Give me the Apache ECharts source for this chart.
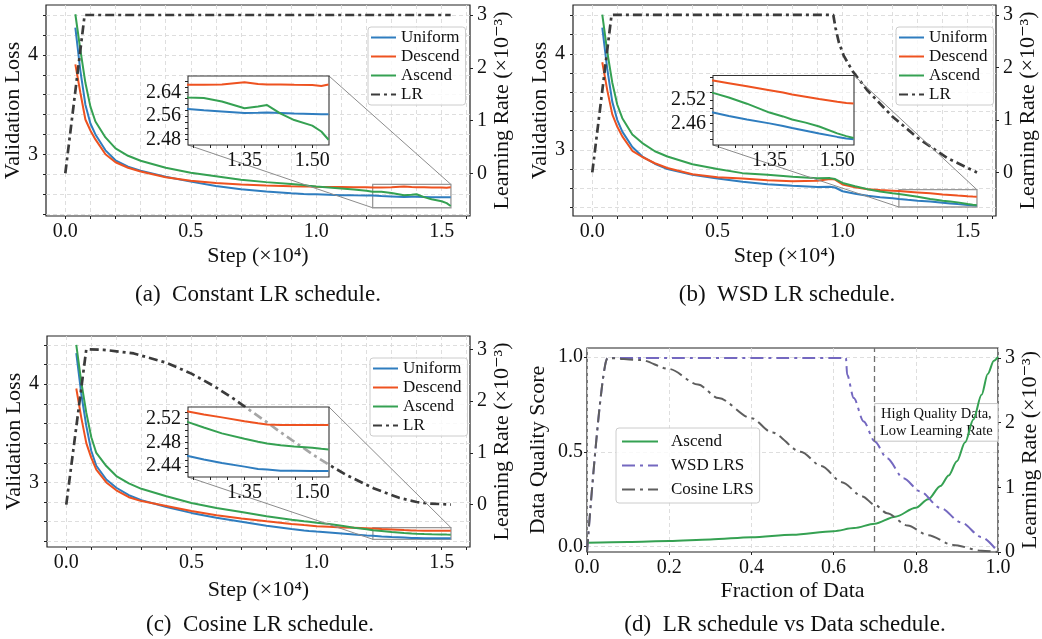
<!DOCTYPE html>
<html>
<head>
<meta charset="utf-8">
<script src="https://cdn.jsdelivr.net/npm/echarts@6/dist/echarts.min.js"></script>
<style>
  html, body { margin: 0; padding: 0; background: #fff; }
  #chart { width: 1042px; height: 639px; }
</style>
</head>
<body>
<div id="chart"></div>
<script>
// ---- data (step axis in units of 1e4 steps) ----
const steps = [0.04, 0.06, 0.08, 0.10, 0.12, 0.16, 0.20, 0.25, 0.30, 0.40, 0.50, 0.60, 0.70, 0.80, 0.90, 0.95, 0.97,
  1.00, 1.05, 1.10, 1.15, 1.20, 1.225, 1.26, 1.30, 1.35, 1.38, 1.40, 1.43, 1.46, 1.50, 1.52, 1.536];

// (a) constant LR
const uniformA = [4.275, 3.84, 3.50, 3.31, 3.20, 3.04, 2.94, 2.875, 2.836, 2.775, 2.725, 2.68, 2.648, 2.625, 2.607, 2.601, 2.599,
  2.597, 2.592, 2.589, 2.587, 2.586, 2.585, 2.58, 2.576, 2.571, 2.572, 2.573, 2.571, 2.569, 2.568, 2.567, 2.567];
const descendA = [3.906, 3.62, 3.35, 3.24, 3.15, 3.00, 2.92, 2.865, 2.827, 2.77, 2.735, 2.71, 2.695, 2.685, 2.678, 2.676, 2.675,
  2.673, 2.671, 2.67, 2.669, 2.668, 2.667, 2.667, 2.668, 2.676, 2.670, 2.668, 2.668, 2.667, 2.666, 2.663, 2.668];
const ascendA = [4.41, 4.05, 3.72, 3.48, 3.33, 3.17, 3.06, 2.985, 2.935, 2.865, 2.815, 2.78, 2.745, 2.72, 2.70, 2.69, 2.683,
  2.675, 2.665, 2.655, 2.645, 2.632, 2.624, 2.622, 2.61, 2.587, 2.593, 2.598, 2.569, 2.547, 2.528, 2.508, 2.48];
const lrStepsA = [0, 0.077, 1.536];
const lrA = [0, 3, 3];

// (b) WSD LR
const uniformB = [4.274, 3.84, 3.50, 3.31, 3.19, 3.03, 2.93, 2.855, 2.80, 2.74, 2.70, 2.668, 2.642, 2.625, 2.612, 2.614, 2.607,
  2.568, 2.543, 2.52, 2.506, 2.495, 2.488, 2.479, 2.47, 2.46, 2.453, 2.448, 2.441, 2.434, 2.425, 2.421, 2.419];
const descendB = [3.913, 3.62, 3.37, 3.24, 3.14, 2.99, 2.925, 2.86, 2.81, 2.745, 2.715, 2.70, 2.683, 2.673, 2.677, 2.695, 2.69,
  2.638, 2.61, 2.59, 2.58, 2.574, 2.571, 2.564, 2.556, 2.546, 2.54, 2.535, 2.529, 2.523, 2.516, 2.513, 2.5115];
const ascendB = [4.41, 4.02, 3.70, 3.47, 3.33, 3.16, 3.07, 2.985, 2.93, 2.85, 2.80, 2.757, 2.74, 2.72, 2.703, 2.705, 2.695,
  2.655, 2.62, 2.59, 2.565, 2.547, 2.539, 2.527, 2.511, 2.488, 2.478, 2.47, 2.462, 2.452, 2.434, 2.427, 2.422];
const lrStepsB = [0, 0.077, 0.963, 0.972, 0.985, 1.005, 1.04, 1.10, 1.20, 1.30, 1.42, 1.537];
const lrB = [0, 3, 3, 2.75, 2.48, 2.22, 1.93, 1.56, 1.06, 0.66, 0.27, 0];

// (c) cosine LR
const uniformC = [4.316, 3.90, 3.575, 3.32, 3.17, 3.03, 2.946, 2.87, 2.82, 2.75, 2.69, 2.64, 2.60, 2.56, 2.527, 2.512, 2.507,
  2.50, 2.49, 2.48, 2.47, 2.461, 2.457, 2.451, 2.445, 2.439, 2.435, 2.434, 2.432, 2.432, 2.4315, 2.4315, 2.4315];
const descendC = [3.956, 3.66, 3.40, 3.25, 3.13, 3.00, 2.92, 2.85, 2.81, 2.76, 2.71, 2.667, 2.633, 2.605, 2.578, 2.566, 2.562,
  2.555, 2.548, 2.542, 2.538, 2.534, 2.532, 2.527, 2.522, 2.5155, 2.512, 2.51, 2.509, 2.509, 2.509, 2.509, 2.509];
const ascendC = [4.40, 4.02, 3.71, 3.46, 3.30, 3.167, 3.065, 2.99, 2.935, 2.86, 2.79, 2.74, 2.70, 2.656, 2.62, 2.605, 2.60,
  2.59, 2.577, 2.56, 2.54, 2.523, 2.514, 2.505, 2.495, 2.486, 2.481, 2.478, 2.475, 2.473, 2.471, 2.469, 2.468];
const lrStepsC = [0, 0.08, 0.15, 0.27, 0.40, 0.50, 0.59, 0.67, 0.79, 0.87, 1.0, 1.07, 1.12, 1.23, 1.33, 1.40, 1.45, 1.537];
const lrC = [0, 3.0, 2.99, 2.92, 2.74, 2.53, 2.29, 2.04, 1.63, 1.35, 0.92, 0.71, 0.57, 0.31, 0.13, 0.05, 0.02, 0];

// (d) schedules vs fraction of data
const fracAscend = [0, 0.1, 0.2, 0.3, 0.4, 0.5, 0.6, 0.65, 0.7, 0.75, 0.8, 0.83, 0.86, 0.88, 0.9, 0.92, 0.94, 0.96, 0.975, 0.99, 1.0];
const ascendD = [0.021, 0.025, 0.030, 0.038, 0.05, 0.063, 0.082, 0.098, 0.121, 0.158, 0.205, 0.25, 0.32, 0.375, 0.45, 0.55, 0.67, 0.80, 0.91, 0.98, 1.0];
const fracWsd = [0, 0.05, 0.63, 0.633, 0.649, 0.673, 0.70, 0.73, 0.77, 0.81, 0.86, 0.91, 0.96, 1.0];
const wsdD = [0, 3, 3, 2.74, 2.38, 2.02, 1.71, 1.45, 1.14, 0.94, 0.68, 0.46, 0.23, 0];
const fracCos = [0, 0.05, 0.13, 0.2, 0.27, 0.32, 0.4, 0.45, 0.52, 0.57, 0.62, 0.67, 0.7, 0.73, 0.78, 0.83, 0.89, 0.96, 1.0];
const cosD = [0, 3, 2.97, 2.83, 2.59, 2.38, 2.07, 1.85, 1.55, 1.33, 1.08, 0.86, 0.73, 0.60, 0.41, 0.26, 0.11, 0.02, 0];

// ---- ticks / limits ----
const stepMajor = [0, 0.5, 1, 1.5];
const stepMinor = [0, 0.1, 0.2, 0.3, 0.4, 0.5, 0.6, 0.7, 0.8, 0.9, 1, 1.1, 1.2, 1.3, 1.4, 1.5, 1.6];
const lossMajor = [3, 4];
const lossMinor = [2.4, 2.6, 2.8, 3, 3.2, 3.4, 3.6, 3.8, 4, 4.2, 4.4];
const lrTicks = [0, 1, 2, 3];
const zoomSteps = [1.225, 1.537];
const zoomStepTicks = [1.2375, 1.275, 1.3125, 1.35, 1.3875, 1.425, 1.4625, 1.5];
const zoomStepLabels = [1.35, 1.5];
const zoomLossA = [2.462, 2.697];
const zoomTicksA = [2.48, 2.5, 2.52, 2.54, 2.56, 2.58, 2.6, 2.62, 2.64, 2.66, 2.68];
const zoomLabelsA = [2.48, 2.56, 2.64];
const zoomLossB = [2.404, 2.584];
const zoomTicksB = [2.42, 2.44, 2.46, 2.48, 2.5, 2.52, 2.54, 2.56, 2.58];
const zoomLabelsB = [2.46, 2.52];
const zoomLossC = [2.4215, 2.5395];
const zoomTicksC = [2.43, 2.44, 2.45, 2.46, 2.47, 2.48, 2.49, 2.5, 2.51, 2.52, 2.53];
const zoomLabelsC = [2.44, 2.48, 2.52];
const qualityTicks = [0, 0.5, 1];

const captions = ['(a)  Constant LR schedule.', '(b)  WSD LR schedule.', '(c)  Cosine LR schedule.', '(d)  LR schedule vs Data schedule.'];

// ---- styles ----
const FONT = "'Liberation Serif', 'DejaVu Serif', serif";
const BLUE = '#2f7dbf', ORANGE = '#ee5220', GREEN = '#35a152', LRC = '#3b3b3b';
const WSDC = '#7468c0', COSC = '#5e5e5e';
const LR_DASH = [9, 4, 3, 4];
const D_DASH = [13, 5, 3, 5];
const tickLabel = { fontFamily: FONT, fontSize: 20, color: '#111' };
const nameStyle = { fontFamily: FONT, fontSize: 22, color: '#111' };
const gridLine = { show: true, lineStyle: { type: [4, 3], color: '#dadada', width: 0.9 } };
const tickStyle = { color: '#222', width: 1 };

function pairs(xs, ys) { return xs.map((x, i) => [x, ys[i]]); }

const panels = [
  { g: { left: 46, top: 5, width: 424, height: 211 }, yL: [2.379, 4.503], yR: [-0.81, 3.19], gapX: 29, gapL: 20, gapR: 19,
    legend: { left: 368, top: 27 }, u: uniformA, d: descendA, a: ascendA, lrx: lrStepsA, lr: lrA,
    inset: { left: 188, top: 76, width: 141, height: 69 }, iy: zoomLossA, it: zoomTicksA, il: zoomLabelsA, cap: { left: 258, top: 283 } },
  { g: { left: 573, top: 5, width: 423, height: 211 }, yL: [2.31, 4.51], yR: [-0.83, 3.19], gapX: 29, gapL: 16, gapR: 21,
    legend: { left: 896, top: 27 }, u: uniformB, d: descendB, a: ascendB, lrx: lrStepsB, lr: lrB,
    inset: { left: 713, top: 75.5, width: 141, height: 69.5 }, iy: zoomLossB, it: zoomTicksB, il: zoomLabelsB, cap: { left: 787, top: 283 } },
  { g: { left: 47, top: 336, width: 423, height: 211 }, yL: [2.343, 4.49], yR: [-0.82, 3.257], gapX: 32, gapL: 18.5, gapR: 20,
    legend: { left: 370, top: 358 }, u: uniformC, d: descendC, a: ascendC, lrx: lrStepsC, lr: lrC,
    inset: { left: 188, top: 407, width: 141, height: 70 }, iy: zoomLossC, it: zoomTicksC, il: zoomLabelsC, cap: { left: 260, top: 613 } }
];

const grid = [], xAxis = [], yAxis = [], series = [], legend = [], title = [];

function line(name, xi, yi, xs, ys, color, extra) {
  return Object.assign({
    type: 'line', name, xAxisIndex: xi, yAxisIndex: yi, data: pairs(xs, ys),
    symbol: 'none', lineStyle: { width: 2, color }, itemStyle: { color }
  }, extra || {});
}

const legendBase = {
  orient: 'vertical', itemWidth: 25, itemHeight: 12, itemGap: 2, padding: [2, 6, 2, 2],
  backgroundColor: 'rgba(255,255,255,0.8)', borderColor: '#cccccc', borderWidth: 1, borderRadius: 3,
  itemStyle: { opacity: 0, color: 'rgba(0,0,0,0)', borderWidth: 0 },
  textStyle: { fontFamily: FONT, fontSize: 17, color: '#111' }, selectedMode: false
};

const captionStyle = { fontFamily: FONT, fontSize: 23, fontWeight: 'normal', color: '#111' };

// main panels (a)-(c)
panels.forEach((p, k) => {
  grid.push(Object.assign({ show: true, borderColor: '#222', borderWidth: 1.2 }, p.g));
  xAxis.push({
    type: 'value', gridIndex: k, min: -0.077, max: 1.613,
    axisLine: { show: false, onZero: false },
    axisTick: { customValues: stepMinor, length: 3, lineStyle: tickStyle },
    axisLabel: Object.assign({ customValues: stepMajor, formatter: v => v.toFixed(1), margin: 6 }, tickLabel),
    splitLine: gridLine,
    name: 'Step (×10⁴)', nameLocation: 'middle', nameGap: p.gapX, nameTextStyle: nameStyle
  });
  yAxis.push({
    type: 'value', gridIndex: k, position: 'left', min: p.yL[0], max: p.yL[1],
    axisLine: { show: false, onZero: false },
    axisTick: { customValues: lossMinor, length: 3, lineStyle: tickStyle },
    axisLabel: Object.assign({ customValues: lossMajor, formatter: v => String(Math.round(v)), margin: 8 }, tickLabel),
    splitLine: gridLine,
    name: 'Validation Loss', nameLocation: 'middle', nameRotate: 90, nameGap: p.gapL, nameTextStyle: nameStyle
  });
  yAxis.push({
    type: 'value', gridIndex: k, position: 'right', min: p.yR[0], max: p.yR[1],
    axisLine: { show: false, onZero: false },
    axisTick: { customValues: lrTicks, length: 3, lineStyle: tickStyle },
    axisLabel: Object.assign({ customValues: lrTicks, formatter: v => String(Math.round(v)), margin: 7 }, tickLabel),
    splitLine: { show: false },
    name: 'Learning Rate (×10⁻³)', nameLocation: 'middle', nameRotate: 90, nameGap: p.gapR, nameTextStyle: nameStyle
  });
  series.push(line('Uniform', k, 2 * k, steps, p.u, BLUE, {
    markArea: {
      silent: true, itemStyle: { color: 'rgba(0,0,0,0)', borderColor: '#999', borderWidth: 1.3 },
      data: [[{ xAxis: zoomSteps[0], yAxis: p.iy[0] }, { xAxis: zoomSteps[1], yAxis: p.iy[1] }]]
    }
  }));
  series.push(line('Descend', k, 2 * k, steps, p.d, ORANGE));
  series.push(line('Ascend', k, 2 * k, steps, p.a, GREEN));
  series.push(line('LR', k, 2 * k + 1, p.lrx, p.lr, LRC, {
    lineStyle: { width: 2.7, color: LRC, type: LR_DASH }
  }));
  legend.push(Object.assign({}, legendBase, p.legend, { data: ['Uniform', 'Descend', 'Ascend', 'LR'] }));
  title.push({ text: captions[k], left: p.cap.left, top: p.cap.top, textAlign: 'center', padding: 0, textStyle: captionStyle });
});

// panel (d)
grid.push({ left: 587, top: 348, width: 411, height: 204, show: true, borderColor: '#222', borderWidth: 1.2 });
xAxis.push({
  type: 'value', gridIndex: 3, min: 0, max: 1, interval: 0.2,
  axisLine: { show: false, onZero: false },
  axisTick: { length: 3, lineStyle: tickStyle },
  axisLabel: Object.assign({ formatter: v => v.toFixed(1), margin: 6 }, tickLabel),
  splitLine: gridLine,
  name: 'Fraction of Data', nameLocation: 'middle', nameGap: 28, nameTextStyle: nameStyle
});
yAxis.push({
  type: 'value', gridIndex: 3, position: 'left', min: -0.028, max: 1.047,
  axisLine: { show: false, onZero: false },
  axisTick: { customValues: qualityTicks, length: 3, lineStyle: tickStyle },
  axisLabel: Object.assign({ customValues: qualityTicks, formatter: v => v.toFixed(1), margin: 4 }, tickLabel),
  splitLine: gridLine,
  name: 'Data Quality Score', nameLocation: 'middle', nameRotate: 90, nameGap: 38, nameTextStyle: nameStyle
});
yAxis.push({
  type: 'value', gridIndex: 3, position: 'right', min: 0, max: 3.155,
  axisLine: { show: false, onZero: false },
  axisTick: { customValues: lrTicks, length: 3, lineStyle: tickStyle },
  axisLabel: Object.assign({ customValues: lrTicks, formatter: v => String(Math.round(v)), margin: 7 }, tickLabel),
  splitLine: { show: false },
  name: 'Learning Rate (×10⁻³)', nameLocation: 'middle', nameRotate: 90, nameGap: 21, nameTextStyle: nameStyle
});
series.push(line('Ascend', 3, 6, fracAscend, ascendD, GREEN, {
  smooth: 0.3, smoothMonotone: 'x',
  markLine: {
    silent: true, symbol: 'none', label: { show: false },
    lineStyle: { type: [6, 4], color: '#707070', width: 1.3 },
    data: [{ xAxis: 0.7 }]
  },
  markArea: {
    silent: true,
    itemStyle: { color: 'rgba(255,255,255,0.85)', borderColor: '#c4c4c4', borderWidth: 1 },
    label: { show: true, position: 'inside', formatter: 'High Quality Data,\nLow Learning Rate',
      fontFamily: FONT, fontSize: 14.5, lineHeight: 17, color: '#111' },
    data: [[{ xAxis: 0.7, yAxis: 0.556 }, { xAxis: 1.0, yAxis: 0.754 }]]
  }
}));
series.push(line('WSD LRS', 3, 7, fracWsd, wsdD, WSDC, {
  smooth: 0.3, smoothMonotone: 'x', lineStyle: { width: 2, color: WSDC, type: D_DASH }
}));
series.push(line('Cosine LRS', 3, 7, fracCos, cosD, COSC, {
  smooth: 0.3, smoothMonotone: 'x', lineStyle: { width: 2, color: COSC, type: D_DASH }
}));
legend.push(Object.assign({}, legendBase, {
  left: 616, top: 428, itemWidth: 36, itemGap: 7, padding: [5, 6, 5, 5],
  textStyle: { fontFamily: FONT, fontSize: 17, color: '#111', padding: [0, 0, 0, 8] },
  data: ['Ascend', 'WSD LRS', 'Cosine LRS']
}));
title.push({ text: captions[3], left: 785, top: 613, textAlign: 'center', padding: 0, textStyle: captionStyle });

// zoom insets for (a)-(c)
panels.forEach((p, k) => {
  const gi = 4 + k;
  grid.push(Object.assign({ show: true, borderColor: '#333', borderWidth: 1.1, backgroundColor: 'rgba(255,255,255,0.55)', z: 5 }, p.inset));
  xAxis.push({
    type: 'value', gridIndex: gi, min: zoomSteps[0], max: zoomSteps[1], z: 6,
    axisLine: { show: false, onZero: false },
    axisTick: { customValues: zoomStepTicks, length: 3, lineStyle: tickStyle },
    axisLabel: Object.assign({ customValues: zoomStepLabels, formatter: v => v.toFixed(2), margin: 6 }, tickLabel),
    splitLine: { show: false }
  });
  yAxis.push({
    type: 'value', gridIndex: gi, min: p.iy[0], max: p.iy[1], z: 6,
    axisLine: { show: false, onZero: false },
    axisTick: { customValues: p.it, length: 3, lineStyle: tickStyle },
    axisLabel: Object.assign({ customValues: p.il, formatter: v => v.toFixed(2), margin: 7 }, tickLabel),
    splitLine: { show: false }
  });
  series.push(line('Uniform', gi, 8 + k, steps, p.u, BLUE, { z: 6 }));
  series.push(line('Descend', gi, 8 + k, steps, p.d, ORANGE, { z: 6 }));
  series.push(line('Ascend', gi, 8 + k, steps, p.a, GREEN, { z: 6 }));
});

const option = { animation: false, backgroundColor: '#fff', grid, xAxis, yAxis, series, legend, title };

const chart = echarts.init(document.getElementById('chart'));
chart.setOption(option);

// connector lines between each zoom box and its inset
function drawConnectors() {
  const els = [];
  panels.forEach((p, k) => {
    const inset = { xAxisIndex: 4 + k, yAxisIndex: 8 + k };
    const main = { xAxisIndex: k, yAxisIndex: 2 * k };
    const corners = [[zoomSteps[1], p.iy[1]], [zoomSteps[0], p.iy[0]]];
    corners.forEach(c => {
      const a = chart.convertToPixel(inset, c);
      const b = chart.convertToPixel(main, c);
      els.push({ type: 'line', silent: true, z: 4,
        shape: { x1: a[0], y1: a[1], x2: b[0], y2: b[1] },
        style: { stroke: '#8c8c8c', lineWidth: 1 } });
    });
  });
  chart.setOption({ graphic: els });
}
drawConnectors();
</script>
</body>
</html>
